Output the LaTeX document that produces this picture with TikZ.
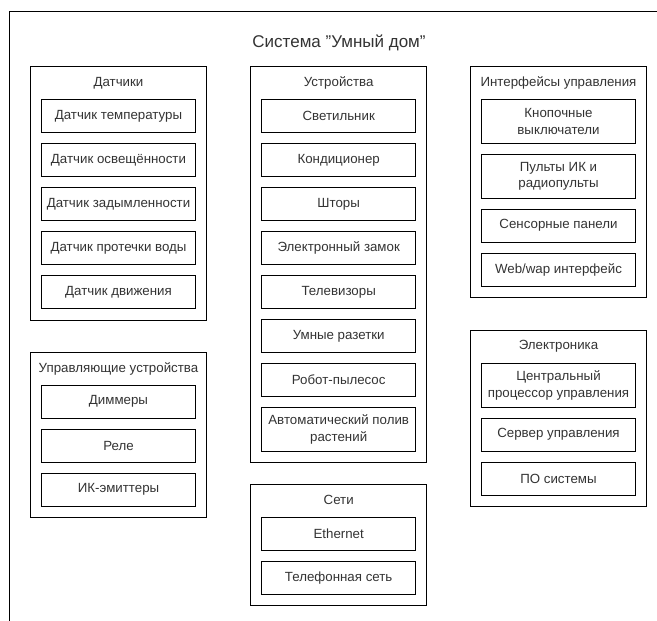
\documentclass[tikz,border=0pt]{standalone}
\usepackage{fontspec}
\setmainfont{Liberation Sans}
\begin{document}
\begin{tikzpicture}[x=1pt,y=-1pt,
  every node/.style={font=\fontsize{13.3}{16.5}\selectfont, text=black!80},
  grp/.style={draw, line width=0.9pt, minimum width=176pt, inner sep=0pt},
  item/.style={draw, line width=0.9pt, minimum width=154pt, minimum height=33pt, inner sep=0pt, align=center},
  tall/.style={item, minimum height=44pt},
  ttl/.style={inner sep=0pt}]
\useasboundingbox (0,0) rectangle (657,621);
% outer frame (cut off at right and bottom)
\coordinate (fr) at (657,11);
\coordinate (fc) at (9,11);
\coordinate (fb) at (9,621);
\draw[line width=0.9pt] (fr) -- (fc) -- (fb);
\node[ttl, font=\fontsize{17}{19}\selectfont] (title) at (339,42.7) {Система \char34Умный дом\char34};

% Датчики
\node[grp, minimum height=253.3pt] (g1) at (118.5,193.35) {};
\node[ttl] (t1) at (118.5,83) {Датчики};
\node[item] (s1) at (118.5,116) {Датчик температуры};
\node[item] (s2) at (118.5,160) {Датчик освещённости};
\node[item] (s3) at (118.5,204) {Датчик задымленности};
\node[item] (s4) at (118.5,248) {Датчик протечки воды};
\node[item] (s5) at (118.5,292) {Датчик движения};

% Управляющие устройства
\node[grp, minimum height=165pt] (g2) at (118.5,434.8) {};
\node[ttl] (t2) at (118.5,369) {Управляющие устройства};
\node[item] (c1) at (118.5,401.8) {Диммеры};
\node[item] (c2) at (118.5,445.8) {Реле};
\node[item] (c3) at (118.5,489.7) {ИК-эмиттеры};

% Устройства
\node[grp, minimum height=395.6pt] (g3) at (338.7,264.5) {};
\node[ttl] (t3) at (338.7,83) {Устройства};
\node[item] (d1) at (338.7,116) {Светильник};
\node[item] (d2) at (338.7,160) {Кондиционер};
\node[item] (d3) at (338.7,204) {Шторы};
\node[item] (d4) at (338.7,248) {Электронный замок};
\node[item] (d5) at (338.7,292) {Телевизоры};
\node[item] (d6) at (338.7,336) {Умные разетки};
\node[item] (d7) at (338.7,380) {Робот-пылесос};
\node[tall] (d8) at (338.7,429.3) {Автоматический полив\\растений};

% Сети
\node[grp, minimum height=121pt] (g4) at (338.7,544.8) {};
\node[ttl] (t4) at (338.7,500) {Сети};
\node[item] (n1) at (338.7,533.8) {Ethernet};
\node[item] (n2) at (338.7,577.8) {Телефонная сеть};

% Интерфейсы управления
\node[grp, minimum height=231pt] (g5) at (558.5,182.2) {};
\node[ttl] (t5) at (558.5,83) {Интерфейсы управления};
\node[tall] (i1) at (558.5,121.3) {Кнопочные\\выключатели};
\node[tall] (i2) at (558.5,176.2) {Пульты ИК и\\радиопульты};
\node[item] (i3) at (558.5,225.5) {Сенсорные панели};
\node[item] (i4) at (558.5,269.8) {Web/wap интерфейс};

% Электроника
\node[grp, minimum height=176pt] (g6) at (558.5,418) {};
\node[ttl] (t6) at (558.5,346.7) {Электроника};
\node[tall] (e1) at (558.5,385.3) {Центральный\\процессор управления};
\node[item] (e2) at (558.5,434.7) {Сервер управления};
\node[item] (e3) at (558.5,478.8) {ПО системы};
\end{tikzpicture}
\end{document}
